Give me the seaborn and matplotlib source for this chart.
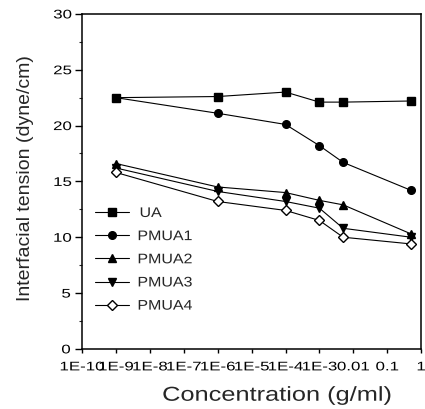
import matplotlib
matplotlib.use("Agg")
import matplotlib.pyplot as plt
import seaborn as sns
from matplotlib.patheffects import AbstractPathEffect
from matplotlib.transforms import Affine2D

# data
conc = [1e-9, 1e-6, 1e-4, 1e-3, 5e-3, 0.5]
ua = [22.5, 22.6, 23.0, 22.1, 22.1, 22.2]
pmua1 = [22.5, 21.1, 20.1, 18.2, 16.7, 14.2]
pmua2 = [16.6, 14.5, 14.0, 13.3, 12.9, 10.3]
pmua3 = [16.2, 14.1, 13.2, 12.6, 10.8, 10.0]
pmua4 = [15.8, 13.2, 12.4, 11.5, 10.0, 9.4]

series = [
    ("UA", ua, "s", "black"),
    ("PMUA1", pmua1, "o", "black"),
    ("PMUA2", pmua2, "^", "black"),
    ("PMUA3", pmua3, "v", "black"),
    ("PMUA4", pmua4, "D", "white"),
]

xticks = [1e-10, 1e-9, 1e-8, 1e-7, 1e-6, 1e-5, 1e-4, 1e-3, 0.01, 0.1, 1]
xlabels = ["1E-10", "1E-9", "1E-8", "1E-7", "1E-6", "1E-5", "1E-4", "1E-3", "0.01", "0.1", "1"]


# the scanned figure has horizontally stretched lettering; widen glyphs about their centre
class Widen(AbstractPathEffect):
    def __init__(self, sx=1.0, sy=1.0):
        super().__init__()
        self.sx, self.sy = sx, sy

    def draw_path(self, renderer, gc, tpath, affine, rgbFace=None):
        ext = tpath.get_extents()
        cx = ext.x0 + ext.width / 2
        cy = ext.y0 + ext.height / 2
        t = Affine2D().translate(-cx, -cy).scale(self.sx, self.sy).translate(cx, cy) + affine
        renderer.draw_path(gc, tpath, t, rgbFace)


sns.set_theme(style="ticks")
plt.rcParams['font.family'] = ['Liberation Sans', 'DejaVu Sans']

fig = plt.figure(figsize=(4.25, 4.09), dpi=100)
ax = fig.add_axes([0.193, 0.147, 0.798, 0.819])

for name, vals, mk, fc in series:
    ms = 5 if mk == "D" else 5.5
    sns.lineplot(x=conc, y=vals, ax=ax, color="black", linewidth=0.8,
                 marker=mk, markersize=ms, markerfacecolor=fc,
                 markeredgecolor="black", markeredgewidth=1.0, label=name)

ax.set_xscale("log")
ax.set_xlim(1e-10, 1)
ax.set_ylim(0, 30)
ax.set_xticks(xticks)
ax.set_xticklabels(xlabels)
ax.minorticks_on()
ax.set_yticks([0, 5, 10, 15, 20, 25, 30])
ax.set_yticks([2.5, 7.5, 12.5, 17.5, 22.5, 27.5], minor=True)
ax.tick_params(axis="both", which="major", direction="out", width=1,
               labelsize=9, colors="black")
ax.tick_params(axis="y", which="major", length=5, pad=4)
ax.tick_params(axis="x", which="major", length=3, pad=6)
ax.tick_params(axis="both", which="minor", direction="out", length=2, width=0.8)

for s in ax.spines.values():
    s.set_linewidth(1.1)
    s.set_color("black")

ax.set_xlabel("Concentration (g/ml)", fontsize=14.5)
ax.xaxis.set_label_coords(0.575, -0.11)
ax.set_ylabel("Interfacial tension (dyne/cm)", fontsize=14)
ax.yaxis.set_label_coords(-0.142, 0.51)

for lab in ax.get_xticklabels() + ax.get_yticklabels():
    lab.set_path_effects([Widen(1.35, 1.0)])
ax.xaxis.label.set_path_effects([Widen(1.26, 1.0)])

leg = ax.legend(loc="upper left", bbox_to_anchor=(0.0, 0.464), frameon=False,
                fontsize=10, handlelength=2.5, labelspacing=0.66, handletextpad=0.85)
for t in leg.get_texts():
    t.set_path_effects([Widen(1.15, 1.0)])

fig.savefig("out.png", dpi=100)
